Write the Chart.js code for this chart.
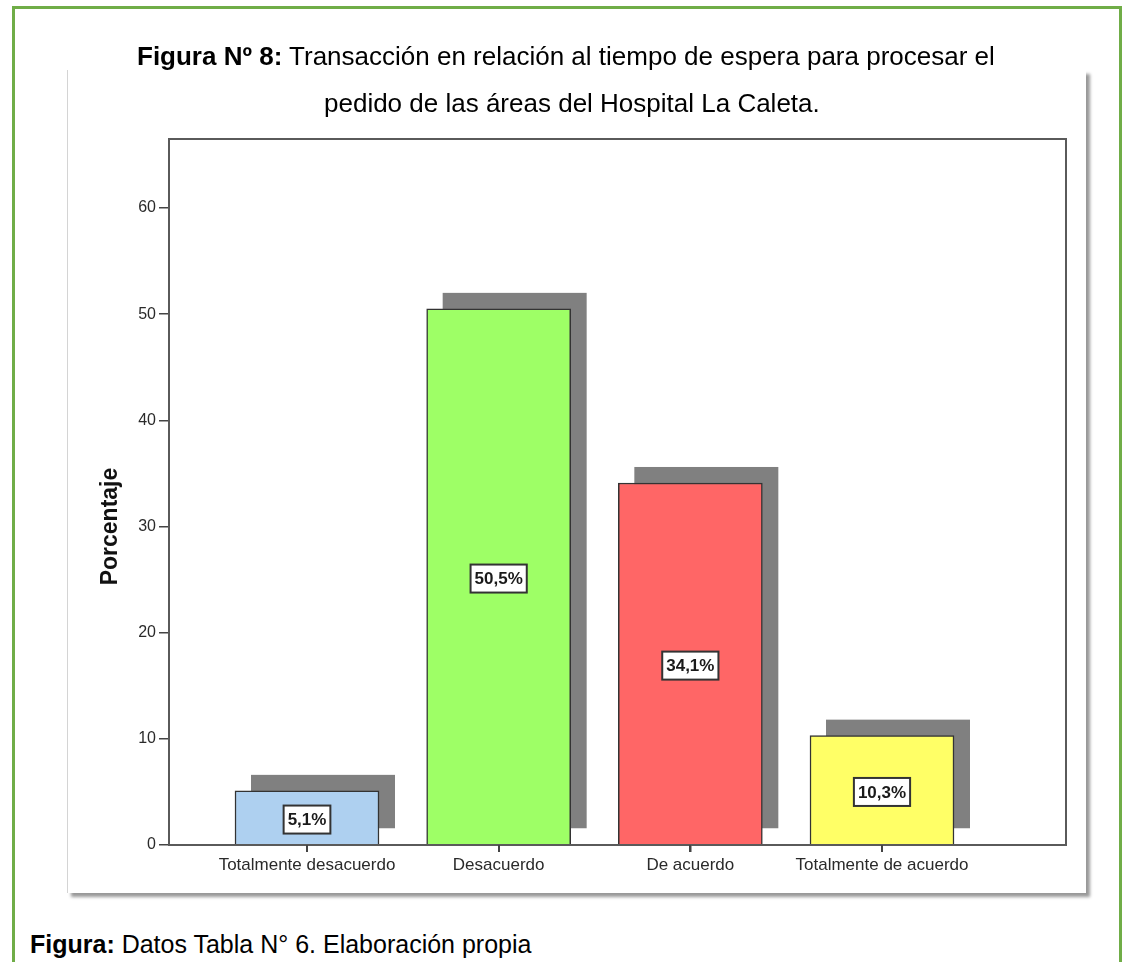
<!DOCTYPE html>
<html lang="es">
<head>
<meta charset="utf-8">
<title>Figura Nº 8</title>
<script src="https://cdn.jsdelivr.net/npm/chart.js@4/dist/chart.umd.min.js"></script>
<style>
  html, body { margin: 0; padding: 0; width: 1124px; height: 962px; overflow: hidden; background: #fff; }
  body { position: relative; font-family: 'Liberation Sans', Arial, sans-serif; color: #000; }
  #marco { position: absolute; left: 12px; top: 6px; width: 1104px; height: 1000px; border: 3px solid #70ad47; }
  #panel { position: absolute; left: 67px; top: 70px; width: 1018px; height: 823px; background: #fff;
           border-left: 1px solid #d4d4d4; box-shadow: 4px 4px 3px rgba(0,0,0,0.4); }
  .linea { position: absolute; font-size: 26px; line-height: 30px; white-space: nowrap; z-index: 3; }
  #pie { position: absolute; left: 30px; top: 930px; font-size: 25px; line-height: 28px; white-space: nowrap; }
  #lienzo { position: absolute; left: 0; top: 0; width: 1124px; height: 962px; z-index: 2; }
</style>
</head>
<body>
<div id="marco"></div>
<div id="panel"></div>
<div class="linea" style="left:137px; top:41px;"><b>Figura Nº 8:</b> Transacción en relación al tiempo de espera para procesar el</div>
<div class="linea" style="left:324px; top:88px;">pedido de las áreas del Hospital La Caleta.</div>
<div id="lienzo"><canvas id="grafico"></canvas></div>
<div id="pie"><b>Figura:</b> Datos Tabla N° 6. Elaboración propia</div>

<script>
// respuestas y porcentajes
const categorias = ['Totalmente desacuerdo', 'Desacuerdo', 'De acuerdo', 'Totalmente de acuerdo'];
const porcentajes = [5.1, 50.5, 34.1, 10.3];
const yTicks = [0, 10, 20, 30, 40, 50, 60];

const colores = ['#aed0f0', '#9eff66', '#ff6666', '#ffff66'];
const fuente = "'Liberation Sans', Arial, sans-serif";

function formato(v) {
    return v.toFixed(1).replace('.', ',') + '%';
}

// sombra gris detras de cada barra
const sombraBarras = {
    id: 'sombraBarras',
    beforeDatasetsDraw(chart) {
        const ctx = chart.ctx;
        ctx.save();
        ctx.fillStyle = '#808080';
        chart.getDatasetMeta(0).data.forEach(bar => {
            const w = bar.width;
            ctx.fillRect(bar.x - w / 2 + 16, bar.y - 16, w, bar.base - bar.y);
        });
        ctx.restore();
    }
};

// marco del area, marcas del eje x, titulo del eje y etiquetas con el porcentaje
const marcoYEtiquetas = {
    id: 'marcoYEtiquetas',
    afterDatasetsDraw(chart) {
        const ctx = chart.ctx;
        const a = chart.chartArea;
        ctx.save();
        ctx.strokeStyle = '#5a5a5a';
        ctx.lineWidth = 2;
        ctx.strokeRect(a.left, a.top, a.right - a.left, a.bottom - a.top);

        const x = chart.scales.x;
        ctx.strokeStyle = '#444';
        ctx.lineWidth = 2;
        ctx.beginPath();
        x.ticks.forEach(t => {
            const px = Math.round(x.getPixelForValue(t.value));
            ctx.moveTo(px, a.bottom);
            ctx.lineTo(px, a.bottom + 7);
        });
        ctx.stroke();

        const y = chart.scales.y;
        const yc = (y.getPixelForValue(yTicks[0]) + y.getPixelForValue(yTicks[yTicks.length - 1])) / 2;
        ctx.translate(a.left - 58, yc);
        ctx.rotate(-Math.PI / 2);
        ctx.font = 'bold 23px ' + fuente;
        ctx.fillStyle = '#111';
        ctx.textAlign = 'center';
        ctx.textBaseline = 'middle';
        ctx.fillText('Porcentaje', 0, 0);
        ctx.restore();

        ctx.save();
        ctx.font = 'bold 17px ' + fuente;
        ctx.textAlign = 'center';
        ctx.textBaseline = 'middle';
        chart.getDatasetMeta(0).data.forEach((bar, i) => {
            const txt = formato(porcentajes[i]);
            const cy = (bar.y + bar.base) / 2 + 2;
            const bw = ctx.measureText(txt).width + 8;
            const bh = 28;
            ctx.fillStyle = '#fff';
            ctx.fillRect(bar.x - bw / 2, cy - bh / 2, bw, bh);
            ctx.strokeStyle = '#333';
            ctx.lineWidth = 2;
            ctx.strokeRect(bar.x - bw / 2, cy - bh / 2, bw, bh);
            ctx.fillStyle = '#1a1a1a';
            ctx.fillText(txt, bar.x, cy + 1);
        });
        ctx.restore();
    }
};

new Chart(document.getElementById('grafico'), {
    type: 'bar',
    data: {
        datasets: [{
            data: porcentajes.map((v, i) => ({ x: i, y: v })),
            backgroundColor: colores,
            borderColor: '#333',
            borderWidth: 1.5,
            barThickness: 144
        }]
    },
    options: {
        responsive: true,
        maintainAspectRatio: false,
        animation: false,
        events: [],
        layout: { padding: { left: 96, top: 139, right: 58, bottom: 77 } },
        plugins: { legend: { display: false }, tooltip: { enabled: false } },
        scales: {
            x: {
                type: 'linear',
                bounds: 'data',
                offset: false,
                min: -0.72,
                max: 3.96,
                border: { display: false },
                grid: { offset: false, drawOnChartArea: false, drawTicks: true, tickLength: 7, tickColor: '#444', lineWidth: 1.5 },
                ticks: {
                    autoSkip: false,
                    maxRotation: 0,
                    padding: 3,
                    color: '#2a2a2a',
                    font: { family: fuente, size: 17 },
                    callback: v => categorias[v] ?? ''
                },
                afterBuildTicks: s => { s.ticks = categorias.map((c, i) => ({ value: i })); },
                afterFit: s => { s.height = 40; }
            },
            y: {
                type: 'linear',
                bounds: 'data',
                min: 0,
                max: 66.5,
                border: { display: false },
                grid: { drawOnChartArea: false, drawTicks: true, tickLength: 10, tickColor: '#444', lineWidth: 1.5 },
                ticks: {
                    padding: 3,
                    color: '#2a2a2a',
                    font: { family: fuente, size: 16 }
                },
                afterBuildTicks: s => { s.ticks = yTicks.map(v => ({ value: v })); },
                afterFit: s => { s.width = 73; }
            }
        }
    },
    plugins: [sombraBarras, marcoYEtiquetas]
});
</script>
</body>
</html>
